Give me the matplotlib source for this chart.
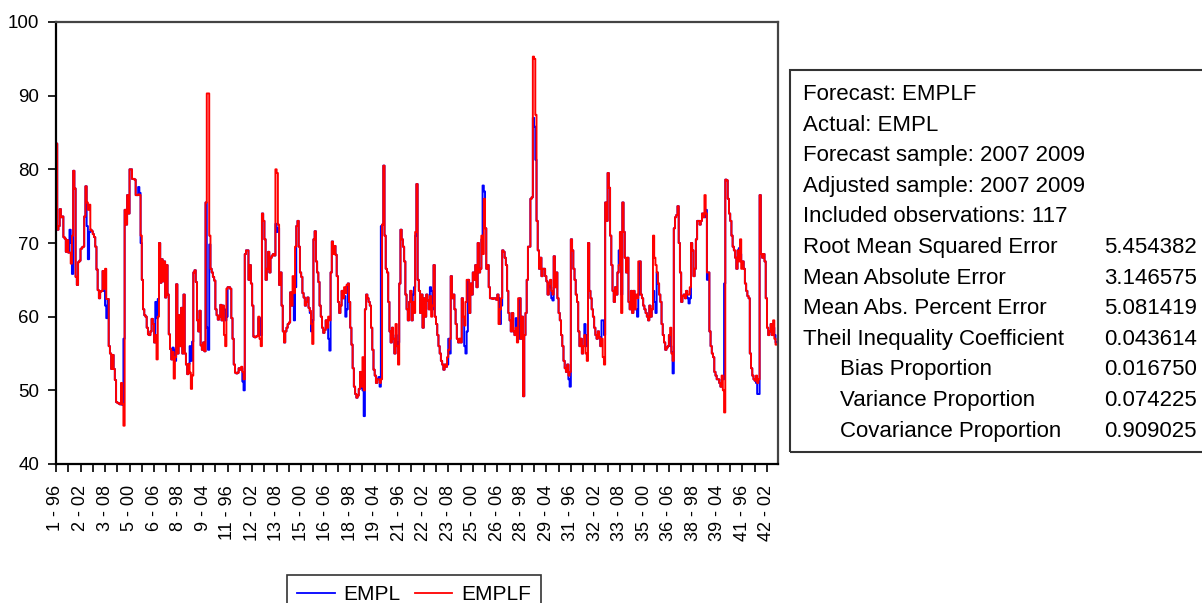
import numpy as np
import matplotlib
matplotlib.use("Agg")
import matplotlib.pyplot as plt
from matplotlib.patches import Rectangle
from matplotlib.lines import Line2D

plt.rcParams['font.family'] = ['Liberation Sans', 'DejaVu Sans']

# panel: 42 cross sections x 14 years (1996-2009)
sections = list(range(1, 43))
years = list(range(1996, 2010))

# actual EMPL, one row per cross section (1996..2009)
empl = [
    [83.5, 71.8, 72.3, 74.6, 73.5, 73.6, 70.8, 70.6, 68.8, 70.4, 68.7, 71.8, 70.0, 65.8],
    [79.8, 77.4, 65.4, 64.3, 67.4, 67.6, 69.2, 69.4, 69.5, 73.6, 77.7, 72.3, 67.8, 71.5],
    [71.8, 71.6, 71.2, 70.8, 69.5, 66.4, 63.6, 62.5, 63.4, 63.5, 66.2, 63.5, 61.5, 59.8],
    [62.4, 56.0, 55.0, 52.9, 54.8, 52.9, 51.4, 48.4, 48.3, 48.2, 48.1, 48.2, 48.0, 57.0],
    [74.5, 72.5, 76.5, 74.0, 80.0, 80.0, 78.7, 78.7, 78.6, 76.5, 76.5, 77.6, 76.8, 70.0],
    [65.0, 61.0, 60.2, 60.0, 58.5, 57.6, 57.5, 58.0, 59.7, 59.0, 56.5, 62.0, 59.8, 62.4],
    [70.0, 64.6, 67.8, 64.8, 67.5, 62.6, 67.0, 63.0, 57.6, 55.6, 54.2, 55.8, 55.5, 54.0],
    [64.4, 55.0, 60.2, 56.0, 61.2, 55.0, 63.0, 55.0, 53.5, 52.2, 53.6, 56.0, 54.0, 56.6],
    [66.0, 66.3, 64.7, 59.5, 58.0, 60.8, 56.1, 55.5, 56.5, 55.3, 75.5, 58.5, 55.5, 69.8],
    [66.5, 66.0, 65.4, 64.9, 61.0, 60.2, 59.6, 60.0, 61.6, 59.5, 61.5, 61.0, 59.5, 60.0],
    [64.0, 64.0, 63.8, 59.8, 57.0, 53.5, 52.4, 52.3, 52.4, 53.0, 52.8, 53.0, 51.2, 50.0],
    [68.5, 69.0, 69.0, 65.0, 67.0, 64.5, 61.5, 57.3, 57.2, 57.3, 57.4, 59.8, 59.8, 57.5],
    [74.0, 73.0, 70.5, 65.0, 66.5, 68.8, 66.0, 68.0, 68.3, 68.5, 68.3, 72.6, 71.5, 72.0],
    [64.3, 66.0, 61.5, 58.0, 56.5, 58.0, 58.5, 59.0, 59.2, 63.3, 61.5, 63.0, 59.5, 64.0],
    [72.3, 73.0, 69.5, 66.0, 65.4, 63.2, 62.6, 61.5, 62.0, 62.6, 61.2, 60.5, 58.0, 59.5],
    [70.5, 71.6, 67.5, 66.0, 64.7, 61.5, 60.0, 58.5, 57.8, 58.2, 59.5, 59.0, 57.0, 55.4],
    [66.0, 70.2, 68.5, 69.6, 68.4, 65.5, 62.0, 60.5, 61.5, 63.5, 62.5, 62.8, 60.0, 61.0],
    [64.5, 62.0, 58.5, 56.2, 53.0, 50.5, 49.5, 49.0, 49.3, 50.2, 52.5, 50.3, 50.0, 46.5],
    [61.0, 63.0, 62.5, 62.0, 61.5, 58.5, 55.5, 52.8, 52.0, 51.0, 51.5, 51.8, 50.5, 72.3],
    [72.5, 80.5, 71.0, 66.5, 66.0, 62.0, 58.0, 56.5, 58.5, 57.0, 55.0, 57.5, 56.0, 56.5],
    [64.5, 71.8, 70.5, 69.5, 67.5, 63.0, 61.0, 59.5, 62.0, 63.5, 59.5, 63.0, 64.0, 71.0],
    [78.0, 65.0, 63.5, 60.5, 63.0, 58.5, 62.5, 60.0, 63.0, 62.2, 61.0, 64.0, 63.5, 61.0],
    [67.0, 60.0, 59.0, 57.5, 56.0, 55.0, 54.0, 53.5, 52.8, 53.5, 53.2, 53.5, 57.0, 55.0],
    [65.5, 62.5, 63.0, 61.0, 59.0, 57.0, 56.5, 57.0, 56.5, 62.5, 60.0, 56.0, 55.0, 58.0],
    [65.0, 60.5, 64.5, 63.0, 66.0, 65.0, 67.0, 64.0, 70.0, 66.0, 66.5, 70.5, 77.8, 77.0],
    [72.0, 66.5, 67.0, 64.0, 62.5, 62.5, 62.4, 62.5, 62.5, 62.3, 63.0, 62.5, 59.0, 61.5],
    [69.0, 68.8, 68.0, 67.0, 63.5, 60.5, 59.5, 58.0, 60.5, 58.0, 57.5, 59.8, 58.5, 57.0],
    [62.5, 57.0, 60.0, 49.2, 57.5, 60.5, 65.0, 69.5, 69.5, 76.0, 76.2, 87.0, 85.8, 81.3],
    [73.0, 69.0, 66.5, 68.0, 65.5, 66.5, 66.5, 65.5, 64.8, 63.0, 64.5, 64.0, 62.5, 62.2],
    [68.2, 64.0, 66.0, 62.5, 60.5, 59.5, 57.5, 56.0, 54.0, 53.0, 52.5, 53.5, 51.5, 50.5],
    [70.5, 69.0, 66.5, 65.0, 63.0, 62.0, 58.0, 56.0, 57.0, 55.0, 56.0, 59.0, 56.0, 57.5],
    [70.0, 63.5, 62.5, 61.0, 60.0, 58.5, 57.5, 57.0, 58.0, 57.2, 56.0, 59.5, 59.5, 57.5],
    [75.5, 73.0, 79.5, 77.5, 71.0, 67.0, 63.5, 62.0, 64.0, 63.0, 66.0, 69.0, 67.5, 63.0],
    [75.5, 71.5, 68.0, 66.0, 68.0, 62.0, 61.0, 63.5, 60.5, 63.5, 61.0, 61.0, 60.0, 63.0],
    [67.5, 63.0, 62.5, 61.5, 61.0, 60.5, 60.0, 59.5, 61.5, 60.0, 61.0, 63.5, 62.0, 60.5],
    [66.0, 64.5, 63.0, 62.0, 59.0, 57.5, 56.5, 55.5, 55.8, 56.0, 57.5, 56.0, 55.2, 52.3],
    [72.0, 73.5, 73.8, 75.0, 70.0, 66.0, 62.0, 62.8, 63.0, 62.5, 63.5, 62.5, 61.8, 62.5],
    [70.0, 69.0, 65.5, 66.5, 70.5, 73.0, 73.0, 72.5, 73.0, 74.0, 73.5, 73.5, 74.5, 65.0],
    [66.0, 58.0, 56.0, 55.0, 54.5, 52.5, 52.0, 51.5, 51.5, 51.0, 50.5, 51.5, 51.5, 64.5],
    [78.6, 78.5, 76.0, 74.0, 73.0, 71.0, 69.5, 69.0, 68.0, 66.5, 69.0, 69.3, 68.5, 67.5],
    [67.5, 66.5, 64.5, 63.5, 62.8, 62.5, 55.0, 53.0, 52.0, 51.5, 51.3, 51.0, 49.5, 49.5],
    [76.5, 68.5, 68.0, 68.5, 67.5, 62.5, 58.5, 57.5, 58.0, 59.0, 57.5, 58.5, 57.5, 56.5],
]

# forecast EMPLF for 2007, 2008, 2009 (equal to actual in other years)
emplf_0709 = [
    [68.7, 67.2, 71.0], [75.5, 74.5, 75.2], [63.8, 66.5, 62.4], [51.0, 48.1, 45.2],
    [76.6, 76.5, 71.0], [57.5, 54.2, 60.0], [55.2, 51.6, 54.5], [52.4, 50.2, 52.0],
    [90.3, 90.3, 71.0], [57.5, 56.0, 63.8], [53.2, 52.5, 51.5], [60.0, 57.0, 56.0],
    [80.0, 79.5, 72.5], [65.5, 63.2, 69.5], [60.8, 59.0, 56.3], [58.5, 60.0, 59.5],
    [64.0, 63.2, 64.3], [50.5, 54.5, 50.0], [51.5, 51.0, 51.5], [59.0, 56.0, 53.5],
    [62.0, 60.5, 71.5], [62.8, 60.0, 61.5], [54.5, 55.5, 57.0], [58.8, 62.0, 65.0],
    [71.0, 68.5, 76.0], [59.0, 61.0, 62.5], [58.5, 56.5, 62.5], [95.3, 95.0, 87.4],
    [65.0, 63.5, 63.0], [53.5, 52.0, 52.5], [57.5, 55.0, 54.0], [57.0, 54.5, 53.5],
    [67.0, 71.5, 60.5], [63.0, 62.5, 67.5], [71.0, 68.0, 67.0], [58.5, 55.0, 54.0],
    [63.0, 63.0, 64.0], [76.5, 74.0, 66.0], [52.0, 50.0, 47.0], [67.5, 70.5, 66.5],
    [52.0, 51.0, 51.5], [59.5, 57.0, 56.2],
]

stats_labels = ["Forecast: EMPLF", "Actual: EMPL", "Forecast sample: 2007 2009",
                "Adjusted sample: 2007 2009", "Included observations: 117",
                "Root Mean Squared Error", "Mean Absolute Error",
                "Mean Abs. Percent Error", "Theil Inequality Coefficient",
                "Bias Proportion", "Variance Proportion", "Covariance Proportion"]
stats_values = ["", "", "", "", "", "5.454382", "3.146575", "5.081419",
                "0.043614", "0.016750", "0.074225", "0.909025"]

actual = np.array(empl, dtype=float)
forecast = actual.copy()
forecast[:, 11:] = np.array(emplf_0709)
actual = actual.ravel()
forecast = forecast.ravel()
x = np.arange(len(actual))

W, H = 1202, 603
fig = plt.figure(figsize=(W / 100, H / 100), dpi=100)
ax = fig.add_axes([56 / W, 1 - 464 / H, (778 - 56) / W, (464 - 22) / H])

ax.plot(x + 0.5, actual, color='#0000ff', lw=1.4, drawstyle='steps-mid')
ax.plot(x + 0.5, forecast, color='#ff0000', lw=1.4, drawstyle='steps-mid')

ax.set_xlim(0, 589)
ax.set_ylim(40, 100)
ax.set_yticks(range(40, 101, 10))

nyr = len(years)
major = np.arange(0, len(x), 20)
ax.set_xticks(major)
ax.set_xticklabels(["%d - %02d" % (sections[i // nyr], years[i % nyr] % 100) for i in major],
                   rotation=90, fontsize=13)
ax.set_xticks(np.arange(10, len(x), 20), minor=True)
ax.tick_params(axis='x', which='both', direction='out', length=6, width=1.2, pad=9)
ax.tick_params(axis='y', direction='out', length=6, width=1.2, labelsize=13.5, pad=6)

for s in ['left', 'bottom']:
    ax.spines[s].set_linewidth(1.6)
    ax.spines[s].set_color('black')
for s in ['top', 'right']:
    ax.spines[s].set_linewidth(1.6)
    ax.spines[s].set_color('#444444')

# legend below the plot
handles = [Line2D([], [], color='#0000ff', lw=1.3), Line2D([], [], color='#ff0000', lw=1.3)]
leg = fig.legend(handles, ['EMPL', 'EMPLF'], loc='upper left',
                 bbox_to_anchor=(287 / W, 1 - 575 / H), ncol=2, fontsize=15,
                 frameon=True, fancybox=False, borderpad=0.5, handlelength=1.8,
                 handletextpad=0.4, columnspacing=0.7, borderaxespad=0)
leg.get_frame().set_edgecolor('black')
leg.get_frame().set_linewidth(1.2)

# forecast evaluation box
fig.patches.append(Rectangle((790 / W, 1 - 452 / H), 0.5, (452 - 70) / H,
                             transform=fig.transFigure, fill=False,
                             edgecolor='#333333', lw=1.5, clip_on=False))
for k, (lab, val) in enumerate(zip(stats_labels, stats_values)):
    yb = 1 - (100 + 30.6 * k) / H
    xl = 840 if k >= 9 else 803
    fig.text(xl / W, yb, lab, fontsize=16, va='baseline', ha='left')
    if val:
        fig.text(1197 / W, yb, val, fontsize=16, va='baseline', ha='right')

fig.savefig('out.png', dpi=100)
